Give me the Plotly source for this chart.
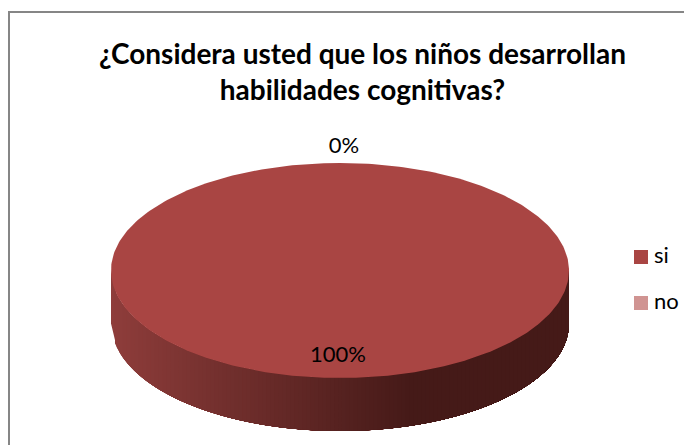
import numpy as np
import plotly.graph_objects as go

# --- data ---
categories = ["si", "no"]
values = [100, 0]
labels = ["100%", "0%"]
colors = ["#A94543", "#D09492"]
title_lines = ["¿Considera usted que los niños desarrollan", "habilidades cognitivas?"]

# --- pie geometry (pixels of the 692x445 window; the page has an 8px body margin) ---
W, H, PAGE = 692, 445, 8
CX, CY, RX, RY, DEPTH = 340, 270.5, 229, 107.5, 53
PW, PH = W - PAGE, H - PAGE
LEG_MARK_X, LEG_TEXT_X, LEG_Y0, LEG_STEP = 641, 654, 257, 46

total = sum(values)
fracs = [v / total for v in values]

def pt(theta):
    # theta measured clockwise from the top of the ellipse
    return CX + RX * np.sin(theta), CY - RY * np.cos(theta)

fig = go.Figure()

# side wall: painted left to right, every strip reaching the right edge
xs = np.linspace(CX - RX, CX + RX, 116)
light = np.array([0x8E, 0x3D, 0x3B])
dark = np.array([0x45, 0x1A, 0x18])
for x0 in xs[:-1]:
    t = np.clip((x0 - (CX - RX)) / 300.0, 0, 1)
    c = light + (dark - light) * t
    col = "rgb(%d,%d,%d)" % tuple(c)
    xa = np.linspace(x0, CX + RX, 80)
    u = np.sqrt(np.clip(1 - ((xa - CX) / RX) ** 2, 0, 1))
    top = CY + RY * u
    bot = top + DEPTH
    fig.add_trace(go.Scatter(
        x=np.r_[xa, xa[::-1]], y=np.r_[bot, np.maximum(top, CY)[::-1]],
        mode="lines", fill="toself", fillcolor=col,
        line=dict(width=0), hoverinfo="skip", showlegend=False))

# top faces, one per category, from the values
start = 0.0
mids = []
for name, f, col in zip(categories, fracs, colors):
    th = np.linspace(start, start + 2 * np.pi * f, 361)
    x, y = pt(th)
    if f < 1:
        x, y = np.r_[CX, x, CX], np.r_[CY, y, CY]
    fig.add_trace(go.Scatter(
        x=x, y=y, mode="lines", fill="toself", fillcolor=col, name=name,
        line=dict(width=0), hoverinfo="skip", showlegend=False))
    mids.append(start + np.pi * f)
    start += 2 * np.pi * f

# data labels, placed from slice mid angles
lab_x, lab_y = [], []
for f, m in zip(fracs, mids):
    if f > 0:
        lx, ly = CX - 2, CY - RY * 0.80 * np.cos(m)
    else:
        lx, ly = CX + 4, CY - RY * 1.145 * np.cos(m % (2 * np.pi))
    lab_x.append(lx)
    lab_y.append(ly)
fig.add_trace(go.Scatter(
    x=lab_x, y=lab_y, text=labels, mode="text", textposition="middle center",
    textfont=dict(family="Lato", size=22, color="#000000"),
    hoverinfo="skip", showlegend=False, cliponaxis=False))

# legend: swatch and label per category
leg_y = [LEG_Y0 + i * LEG_STEP for i in range(len(categories))]
fig.add_trace(go.Scatter(
    x=[LEG_MARK_X] * len(categories), y=leg_y, mode="markers",
    marker=dict(symbol="square", size=14, color=colors, line=dict(width=0)),
    hoverinfo="skip", showlegend=False, cliponaxis=False))
fig.add_trace(go.Scatter(
    x=[LEG_TEXT_X] * len(categories), y=leg_y, text=categories, mode="text",
    textposition="middle right",
    textfont=dict(family="Lato", size=22, color="#000000"),
    hoverinfo="skip", showlegend=False, cliponaxis=False))

fig.update_layout(
    width=PW, height=PH,
    margin=dict(l=0, r=0, t=0, b=0),
    showlegend=False,
    paper_bgcolor="#FFFFFF", plot_bgcolor="#FFFFFF",
    xaxis=dict(range=[PAGE, W], visible=False, fixedrange=True),
    yaxis=dict(range=[H, PAGE], visible=False, fixedrange=True),
    title=dict(
        text="<b>" + "<br>".join(title_lines) + "</b>",
        x=(362.5 - PAGE) / PW, xanchor="center",
        y=1 - (64 - PAGE) / PH, yanchor="middle",
        font=dict(family="Lato", size=28, color="#000000")),
    shapes=[
        dict(type="line", xref="x", yref="y", x0=9, y0=12, x1=9, y1=H,
             line=dict(color="#868686", width=2), layer="below"),
        dict(type="line", xref="x", yref="y", x0=8, y0=12, x1=W, y1=12,
             line=dict(color="#868686", width=2), layer="below"),
    ],
)
fig.write_html("out.html")
